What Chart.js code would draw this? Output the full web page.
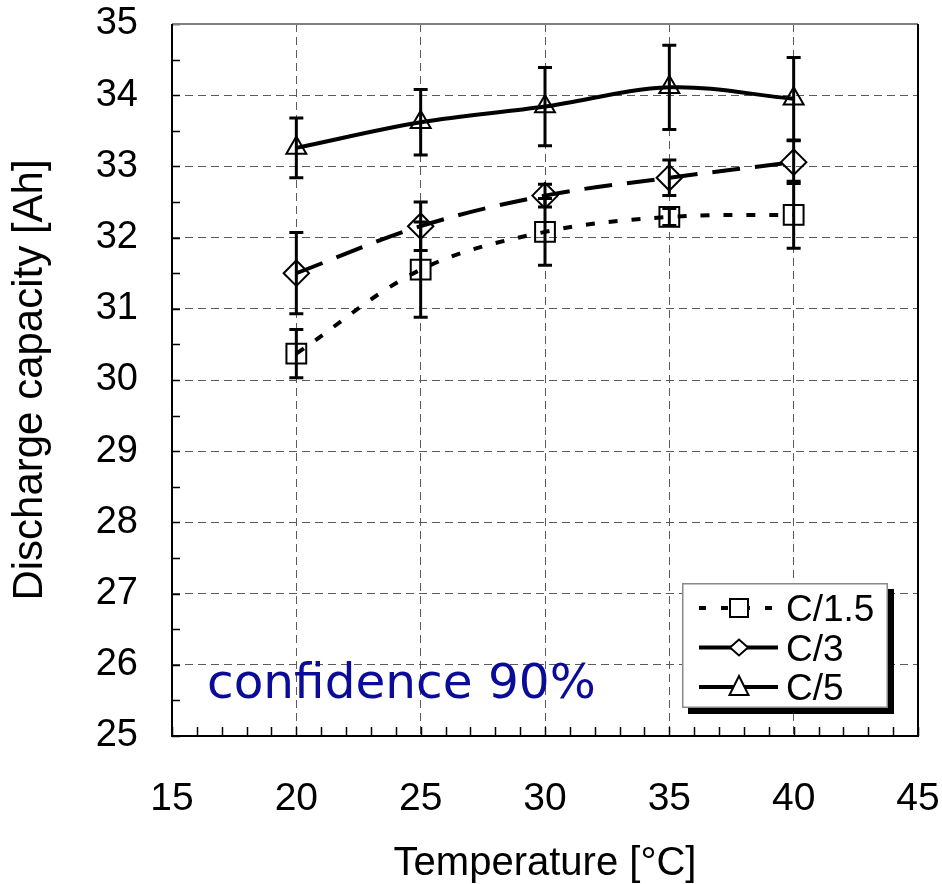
<!DOCTYPE html>
<html>
<head>
<meta charset="utf-8">
<script src="https://cdn.jsdelivr.net/npm/chart.js@4.4.1/dist/chart.umd.min.js"></script>
<style>
  html, body { margin: 0; padding: 0; background: #fff; }
  #wrap { width: 942px; height: 884px; position: relative; }
</style>
</head>
<body>
<div id="wrap"><canvas id="capChart"></canvas></div>
<script>
// discharge capacity vs. temperature, three C-rates, 90% confidence bars
const temperatures = [20, 25, 30, 35, 40];
const capC15 = [30.37, 31.55, 32.08, 32.29, 32.32];
const errC15 = [0.34, 0.67, 0.47, 0.12, 0.47];
const capC3 = [31.50, 32.16, 32.59, 32.84, 33.06];
const errC3 = [0.57, 0.34, 0.16, 0.25, 0.30];
const capC5 = [33.26, 33.62, 33.84, 34.11, 33.95];
const errC5 = [0.42, 0.46, 0.55, 0.59, 0.58];
const seriesNames = ['C/1.5', 'C/3', 'C/5'];
const xTicks = [15, 20, 25, 30, 35, 40, 45];
const yTicks = [25, 26, 27, 28, 29, 30, 31, 32, 33, 34, 35];
const noteText = 'confidence 90%';

const FONT = "'Liberation Sans', Arial, sans-serif";

function points(ys) {
    return temperatures.map((t, i) => ({ x: t, y: ys[i] }));
}

const errorBars = {
    id: 'errorBars',
    afterDatasetsDraw(chart) {
        const { ctx, scales: { x, y } } = chart;
        ctx.save();
        ctx.strokeStyle = '#000';
        ctx.lineWidth = 3;
        ctx.setLineDash([]);
        chart.data.datasets.forEach(ds => {
            ds.data.forEach((p, i) => {
                const px = x.getPixelForValue(p.x);
                const top = y.getPixelForValue(p.y + ds.errors[i]);
                const bot = y.getPixelForValue(p.y - ds.errors[i]);
                ctx.beginPath();
                ctx.moveTo(px, top); ctx.lineTo(px, bot);
                ctx.moveTo(px - 7, top); ctx.lineTo(px + 7, top);
                ctx.moveTo(px - 7, bot); ctx.lineTo(px + 7, bot);
                ctx.stroke();
            });
        });
        ctx.restore();
    }
};

function marker(ctx, style, x, y) {
    ctx.beginPath();
    if (style === 'rect') {
        ctx.rect(x - 9, y - 9, 18, 18);
    } else if (style === 'rectRot') {
        ctx.moveTo(x - 9, y); ctx.lineTo(x, y - 8); ctx.lineTo(x + 9, y); ctx.lineTo(x, y + 8); ctx.closePath();
    } else {
        ctx.moveTo(x, y - 11); ctx.lineTo(x + 9.5, y + 8); ctx.lineTo(x - 9.5, y + 8); ctx.closePath();
    }
    ctx.fillStyle = '#fff';
    ctx.fill();
    ctx.lineWidth = 2;
    ctx.setLineDash([]);
    ctx.strokeStyle = '#000';
    ctx.stroke();
}

const frameAndLegend = {
    id: 'frameAndLegend',
    afterDraw(chart) {
        const { ctx, chartArea: a, scales: { x, y } } = chart;
        ctx.save();
        ctx.setLineDash([]);

        // inner tick marks
        ctx.strokeStyle = '#000';
        ctx.lineWidth = 1.5;
        ctx.beginPath();
        for (let v = 25; v <= 35; v += 0.5) {
            const py = Math.round(y.getPixelForValue(v)) + 0.5;
            ctx.moveTo(a.left, py); ctx.lineTo(a.left + 8, py);
        }
        for (let v = 15; v <= 45; v += 1) {
            const px = Math.round(x.getPixelForValue(v)) + 0.5;
            ctx.moveTo(px, a.bottom); ctx.lineTo(px, a.bottom - 9);
        }
        ctx.stroke();

        // plot frame
        ctx.lineWidth = 2;
        ctx.strokeStyle = '#808080';
        ctx.beginPath();
        ctx.moveTo(a.left, a.top); ctx.lineTo(a.right, a.top);
        ctx.stroke();
        ctx.strokeStyle = '#000';
        ctx.beginPath();
        ctx.moveTo(a.right, a.top); ctx.lineTo(a.right, a.bottom);
        ctx.lineTo(a.left, a.bottom); ctx.lineTo(a.left, a.top);
        ctx.stroke();

        // annotation
        ctx.fillStyle = '#0b0b99';
        ctx.font = "48.5px 'DejaVu Sans', Verdana, sans-serif";
        ctx.textBaseline = 'alphabetic';
        ctx.textAlign = 'left';
        ctx.fillText(noteText, a.left + 35, 698);

        // legend box with drop shadow
        const lx = a.right - 236, ly = a.bottom - 153, w = 206, h = 125;
        ctx.fillStyle = '#000';
        ctx.fillRect(lx + 6, ly + 6, w, h);
        ctx.fillStyle = '#fff';
        ctx.fillRect(lx, ly, w, h);
        ctx.strokeStyle = '#888';
        ctx.lineWidth = 1.5;
        ctx.strokeRect(lx + 0.75, ly + 0.75, w - 1.5, h - 1.5);

        chart.data.datasets.forEach((ds, i) => {
            const ry = ly + 25 + i * 39.5;
            ctx.strokeStyle = '#000';
            ctx.lineWidth = 4;
            ctx.setLineDash(i === 0 ? [7, 15] : []);
            ctx.beginPath();
            ctx.moveTo(lx + 17, ry); ctx.lineTo(lx + 96, ry);
            ctx.stroke();
            marker(ctx, ds.pointStyle, lx + 57, ry);
            ctx.fillStyle = '#000';
            ctx.font = '37px ' + FONT;
            ctx.textBaseline = 'alphabetic';
            ctx.fillText(ds.label, lx + 104, ry + 13);
        });
        ctx.restore();
    }
};

const baseSeries = {
    borderColor: '#000',
    borderWidth: 4,
    fill: false,
    tension: 0.35,
    pointBorderColor: '#000',
    pointBackgroundColor: 'rgba(0,0,0,0)',
    pointBorderWidth: 2,
    pointHoverRadius: 0
};

new Chart(document.getElementById('capChart'), {
    type: 'line',
    data: {
        datasets: [
            { ...baseSeries, label: seriesNames[0], data: points(capC15), errors: errC15,
              borderDash: [9, 14], pointStyle: 'rect', pointRadius: 14 },
            { ...baseSeries, label: seriesNames[1], data: points(capC3), errors: errC3,
              borderDash: [28, 15], pointStyle: 'rectRot', pointRadius: 12.7 },
            { ...baseSeries, label: seriesNames[2], data: points(capC5), errors: errC5,
              pointStyle: 'triangle', pointRadius: 11.5 }
        ]
    },
    options: {
        responsive: true,
        maintainAspectRatio: false,
        animation: false,
        events: [],
        layout: { padding: { top: 24, right: 24, left: 0, bottom: 0 } },
        plugins: { legend: { display: false }, tooltip: { enabled: false } },
        scales: {
            x: {
                type: 'linear',
                min: 15, max: 45,
                afterBuildTicks: s => { s.ticks = xTicks.map(v => ({ value: v })); },
                afterFit: s => { s.height = 148; s.paddingLeft = 0; s.paddingRight = 0; },
                grid: { color: '#5a5a5a', lineWidth: 1, drawTicks: false },
                border: { display: false, dash: [8, 5] },
                ticks: {
                    color: '#000', padding: 40, maxRotation: 0, autoSkip: false,
                    font: { family: FONT, size: 39 }
                },
                title: {
                    display: true, text: 'Temperature [°C]', color: '#000',
                    font: { family: FONT, size: 40, lineHeight: 1.0 }, padding: { top: 0, bottom: 0 }
                }
            },
            y: {
                min: 25, max: 35,
                afterBuildTicks: s => { s.ticks = yTicks.map(v => ({ value: v })); },
                afterFit: s => { s.width = 172; s.paddingTop = 0; s.paddingBottom = 0; },
                grid: { color: '#5a5a5a', lineWidth: 1, drawTicks: false },
                border: { display: false, dash: [8, 5] },
                ticks: {
                    color: '#000', padding: 34,
                    font: { family: FONT, size: 38 }
                },
                title: {
                    display: true, text: 'Discharge capacity [Ah]', color: '#000',
                    font: { family: FONT, size: 42 }, padding: { top: 5, bottom: 0 }
                }
            }
        }
    },
    plugins: [errorBars, frameAndLegend]
});
</script>
</body>
</html>
